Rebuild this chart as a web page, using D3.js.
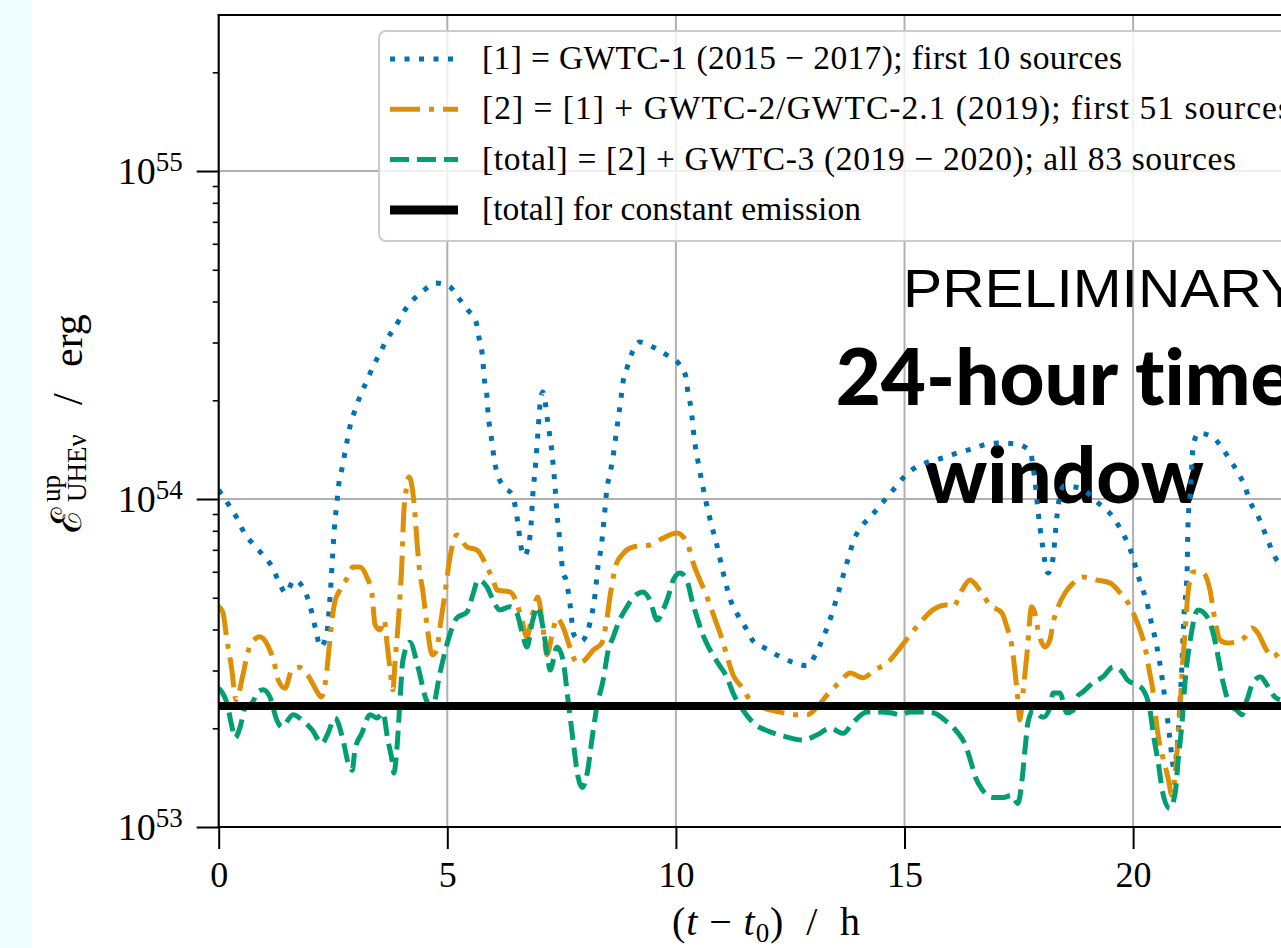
<!DOCTYPE html>
<html lang="en">

<head>
  <meta charset="UTF-8" />
  <title>UHE neutrino energy upper limits</title>
  <script src="https://d3js.org/d3.v7.min.js"></script>
  <style>
    * {
      margin: 0;
      padding: 0;
      box-sizing: border-box;
    }

    body {
      background: #fff;
      width: 1281px;
      height: 948px;
      overflow: hidden;
    }

    svg {
      display: block;
    }

    .serif {
      font-family: 'Liberation Serif', 'DejaVu Serif', serif;
    }
  </style>
</head>

<body>
  <script>
    // time (h) and upper-limit energy in units of 1e53 erg
    const gwtc1 = [[0.00, 10.65], [0.22, 9.59], [0.40, 8.75], [0.55, 7.93], [0.75, 7.29], [0.97, 6.75], [1.17, 6.20], [1.30, 5.66], [1.47, 5.17], [1.65, 5.66], [1.84, 5.39], [1.98, 4.82], [2.13, 3.96], [2.22, 3.54], [2.36, 3.85], [2.40, 4.34], [2.43, 4.92], [2.46, 5.66], [2.49, 6.66], [2.53, 8.16], [2.58, 9.59], [2.63, 11.19], [2.70, 12.43], [2.76, 13.81], [2.89, 17.05], [3.00, 18.94], [3.11, 20.90], [3.24, 22.89], [3.37, 25.26], [3.53, 27.87], [3.68, 30.74], [3.86, 33.44], [4.03, 36.91], [4.23, 40.15], [4.47, 43.07], [4.75, 45.55], [5.04, 44.6], [5.23, 41.29], [5.45, 37.69], [5.63, 34.64], [5.69, 31.19], [5.76, 27.87], [5.79, 25.08], [5.82, 22.58], [5.87, 20.32], [5.89, 18.29], [5.93, 16.46], [5.98, 14.82], [6.02, 13.34], [6.09, 12.0], [6.22, 10.96], [6.42, 10.29], [6.50, 9.26], [6.55, 8.33], [6.59, 7.50], [6.68, 6.70], [6.79, 7.39], [6.83, 8.27], [6.87, 10.29], [6.93, 12.69], [6.98, 15.78], [7.03, 19.48], [7.09, 21.2], [7.20, 17.05], [7.29, 13.81], [7.35, 11.19], [7.40, 9.0], [7.47, 7.29], [7.53, 5.95], [7.60, 5.66], [7.68, 4.82], [7.77, 3.85], [7.93, 3.69], [8.12, 4.19], [8.23, 5.10], [8.30, 6.29], [8.36, 7.04], [8.43, 8.69], [8.49, 10.73], [8.56, 12.0], [8.62, 13.34], [8.71, 16.46], [8.80, 20.32], [8.84, 22.58], [8.93, 25.08], [9.04, 27.87], [9.21, 30.1], [9.50, 29.07], [9.80, 27.48], [10.07, 25.8], [10.22, 23.55], [10.26, 21.2], [10.33, 18.94], [10.40, 15.35], [10.51, 12.43], [10.64, 10.07], [10.79, 8.21], [10.88, 7.39], [11.03, 5.99], [11.21, 4.85], [11.34, 4.46], [11.53, 4.04], [11.69, 3.69], [11.95, 3.51], [12.25, 3.32], [12.56, 3.18], [12.87, 3.10], [13.06, 3.37], [13.20, 3.72], [13.33, 4.13], [13.53, 5.06], [13.72, 6.25], [13.92, 7.66], [14.09, 8.33], [14.31, 9.0], [14.53, 9.79], [14.75, 10.65], [14.97, 11.59], [15.19, 12.34], [15.52, 12.97], [15.84, 13.34], [16.15, 13.81], [16.48, 14.21], [16.81, 14.71], [17.13, 14.82], [17.44, 14.71], [17.74, 14.01], [17.85, 11.43], [17.92, 9.19], [18.01, 7.34], [18.14, 5.95], [18.25, 6.61], [18.31, 8.21], [18.38, 9.93], [18.49, 10.96], [18.84, 10.80], [19.21, 9.79], [19.56, 8.81], [19.76, 7.93], [19.89, 7.29], [20.00, 6.61], [20.09, 5.95], [20.19, 5.39], [20.30, 4.85], [20.37, 4.37], [20.52, 3.54], [20.63, 2.87], [20.72, 2.32], [20.80, 1.88], [20.89, 1.52], [20.98, 1.88], [21.02, 2.32], [21.07, 3.18], [21.11, 4.37], [21.18, 5.99], [21.20, 8.33], [21.25, 10.43], [21.31, 14.30], [21.42, 15.89], [21.73, 15.45], [21.95, 14.30], [22.12, 13.15], [22.30, 12.0], [22.45, 10.88], [22.56, 9.79], [22.71, 9.0], [22.84, 8.16], [22.97, 7.34], [23.10, 6.66], [23.24, 6.29]];

    const gwtc2 = [[0.00, 4.70], [0.09, 4.52], [0.18, 3.72], [0.28, 3.07], [0.38, 2.44], [0.53, 2.91], [0.64, 3.42], [0.75, 3.69], [0.90, 3.80], [1.08, 3.56], [1.21, 3.18], [1.30, 2.81], [1.45, 2.65], [1.60, 3.01], [1.76, 3.07], [1.93, 2.93], [2.13, 2.62], [2.24, 2.49], [2.35, 2.87], [2.41, 3.46], [2.48, 4.28], [2.54, 4.85], [2.65, 5.28], [2.81, 5.74], [2.94, 6.20], [3.09, 6.20], [3.24, 5.78], [3.35, 5.17], [3.42, 4.13], [3.53, 3.99], [3.62, 4.28], [3.68, 3.64], [3.75, 3.01], [3.81, 2.62], [3.86, 3.23], [3.92, 4.07], [3.97, 5.17], [4.01, 6.52], [4.04, 8.63], [4.11, 10.88], [4.16, 11.67], [4.24, 10.65], [4.29, 9.07], [4.34, 7.34], [4.38, 6.29], [4.47, 5.17], [4.56, 4.07], [4.67, 3.35], [4.77, 3.46], [4.84, 4.07], [4.95, 5.17], [5.06, 6.66], [5.21, 7.77], [5.43, 7.14], [5.65, 6.99], [5.87, 6.20], [6.00, 5.66], [6.09, 5.28], [6.37, 5.21], [6.52, 4.82], [6.63, 4.28], [6.74, 3.80], [6.85, 4.37], [6.98, 5.03], [7.09, 4.07], [7.18, 3.35], [7.29, 3.85], [7.40, 4.34], [7.53, 4.07], [7.68, 3.54], [7.84, 3.16], [8.01, 3.23], [8.19, 3.46], [8.38, 3.64], [8.47, 4.13], [8.58, 5.28], [8.69, 6.29], [8.82, 6.75], [9.06, 7.14], [9.43, 7.24], [9.72, 7.60], [10.02, 7.88], [10.24, 7.39], [10.37, 6.43], [10.46, 5.95], [10.68, 5.03], [10.86, 4.28], [11.03, 3.66], [11.14, 3.23], [11.25, 2.91], [11.44, 2.67], [11.62, 2.44], [11.91, 2.31], [12.28, 2.24], [12.56, 2.20], [12.87, 2.20], [13.09, 2.32], [13.31, 2.53], [13.59, 2.77], [13.81, 2.95], [14.09, 2.85], [14.35, 3.01], [14.64, 3.18], [14.90, 3.51], [15.12, 3.85], [15.34, 4.19], [15.62, 4.59], [15.93, 4.75], [16.06, 4.69], [16.26, 5.28], [16.43, 5.66], [16.67, 5.21], [16.87, 4.75], [17.13, 4.49], [17.24, 4.07], [17.35, 3.54], [17.42, 2.95], [17.48, 2.44], [17.52, 2.12], [17.59, 2.56], [17.68, 3.39], [17.78, 4.69], [17.85, 4.49], [17.92, 3.99], [18.07, 3.54], [18.18, 3.72], [18.25, 4.19], [18.36, 4.69], [18.51, 5.17], [18.69, 5.54], [18.90, 5.78], [19.21, 5.66], [19.50, 5.54], [19.72, 5.17], [19.89, 4.82], [20.04, 4.37], [20.15, 3.99], [20.26, 3.54], [20.35, 3.01], [20.43, 2.62], [20.48, 2.27], [20.54, 1.93], [20.65, 1.63], [20.76, 1.42], [20.85, 1.25], [20.92, 1.46], [20.98, 1.84], [21.03, 2.32], [21.07, 2.95], [21.14, 3.99], [21.20, 5.17], [21.31, 5.99], [21.53, 5.95], [21.68, 5.28], [21.79, 4.28], [21.90, 3.72], [22.05, 3.64], [22.27, 3.67], [22.45, 3.80], [22.60, 4.04], [22.73, 3.90], [22.88, 3.54], [23.04, 3.30], [23.21, 3.42]];

    const gwtcTotal = [[0.00, 2.65], [0.07, 2.58], [0.18, 2.39], [0.29, 2.02], [0.36, 1.87], [0.47, 2.02], [0.58, 2.32], [0.73, 2.39], [0.86, 2.58], [0.97, 2.62], [1.12, 2.49], [1.27, 2.12], [1.38, 2.02], [1.63, 2.20], [1.82, 2.12], [2.04, 1.98], [2.26, 1.80], [2.39, 1.93], [2.54, 2.15], [2.72, 1.84], [2.83, 1.57], [2.92, 1.49], [2.98, 1.72], [3.13, 1.93], [3.31, 2.20], [3.46, 2.15], [3.59, 2.23], [3.70, 1.84], [3.79, 1.60], [3.83, 1.46], [3.90, 1.75], [3.97, 2.49], [4.03, 3.23], [4.18, 3.66], [4.36, 3.07], [4.54, 2.44], [4.67, 2.31], [4.84, 2.95], [5.00, 3.64], [5.21, 4.34], [5.43, 4.52], [5.57, 5.17], [5.67, 5.66], [5.87, 5.39], [6.00, 4.92], [6.15, 4.59], [6.37, 4.69], [6.52, 4.49], [6.66, 3.80], [6.74, 3.54], [6.87, 4.28], [6.98, 4.69], [7.07, 4.22], [7.18, 3.39], [7.25, 3.01], [7.40, 3.54], [7.53, 3.23], [7.64, 2.44], [7.75, 1.84], [7.86, 1.42], [7.95, 1.32], [8.06, 1.46], [8.17, 1.88], [8.27, 2.32], [8.41, 2.81], [8.52, 3.46], [8.63, 3.80], [8.74, 4.19], [8.93, 4.69], [9.06, 4.99], [9.28, 5.21], [9.43, 4.92], [9.59, 4.28], [9.72, 4.59], [9.83, 5.03], [9.94, 5.66], [10.09, 5.95], [10.24, 5.66], [10.35, 4.92], [10.46, 4.37], [10.59, 3.85], [10.75, 3.46], [10.92, 3.16], [11.12, 2.85], [11.25, 2.56], [11.47, 2.27], [11.69, 2.08], [12.06, 1.95], [12.43, 1.88], [12.78, 1.84], [13.09, 1.91], [13.37, 2.00], [13.66, 1.93], [13.87, 2.08], [14.18, 2.24], [14.47, 2.24], [14.69, 2.23], [14.90, 2.20], [15.12, 2.24], [15.41, 2.24], [15.62, 2.23], [15.93, 2.09], [16.15, 1.95], [16.33, 1.78], [16.44, 1.60], [16.55, 1.42], [16.70, 1.30], [16.92, 1.23], [17.16, 1.23], [17.35, 1.25], [17.48, 1.18], [17.57, 1.39], [17.64, 1.75], [17.70, 2.08], [17.81, 2.27], [18.03, 2.16], [18.18, 2.31], [18.25, 2.56], [18.40, 2.56], [18.55, 2.23], [18.69, 2.27], [18.77, 2.49], [18.90, 2.58], [19.12, 2.75], [19.34, 2.87], [19.56, 3.07], [19.76, 2.97], [19.87, 2.81], [20.09, 2.71], [20.22, 2.62], [20.37, 2.27], [20.44, 1.93], [20.55, 1.57], [20.65, 1.27], [20.80, 1.14], [20.92, 1.27], [20.98, 1.57], [21.07, 2.08], [21.14, 2.81], [21.25, 3.72], [21.42, 4.59], [21.62, 4.37], [21.75, 3.90], [21.86, 3.30], [21.97, 2.75], [22.12, 2.36], [22.27, 2.27], [22.38, 2.20], [22.49, 2.44], [22.62, 2.75], [22.78, 2.87], [22.93, 2.71], [23.10, 2.49], [23.21, 2.44]];

    const constantTotal = 2.34; // 1e53 erg, constant-emission limit
    const xTicks = [0, 5, 10, 15, 20];
    const yMajor = [1, 10, 100];
    const yExponents = ['53', '54', '55'];
    const yMinor = [2, 3, 4, 5, 6, 7, 8, 9, 20, 30, 40, 50, 60, 70, 80, 90, 200];
    const legendLabels = [
      '[1] = GWTC-1 (2015 \u2212 2017); first 10 sources',
      '[2] = [1] + GWTC-2/GWTC-2.1 (2019); first 51 sources',
      '[total] = [2] + GWTC-3 (2019 \u2212 2020); all 83 sources',
      '[total] for constant emission'
    ];
    const legendWidths = [640, 809, 754, 379];

    //constants
    const [w, h] = [1281, 948];
    const [x0, x1, yTop, yBot] = [218.7, 1316, 15, 827];
    const styles = [
      { color: '#0173b2', dash: '5 9.5', width: 5 },
      { color: '#de8f05', dash: '30 9 5 9', width: 5 },
      { color: '#029e73', dash: '19 8', width: 5 },
      { color: '#000000', dash: null, width: 8 }
    ];

    const svg = d3.select('body').append('svg')
      .attr('width', w)
      .attr('height', h);

    // light strip on the left edge
    svg.append('rect')
      .attr('x', 0).attr('y', 0)
      .attr('width', 32).attr('height', h)
      .attr('fill', '#effefe');

    //scales
    const xScale = d3.scaleLinear().domain([0, 24]).range([x0, x1]);
    const yScale = d3.scaleLog().domain([1, 299]).range([yBot, yTop]);

    //grid
    const grid = svg.append('g').attr('stroke', '#b0b0b0').attr('stroke-width', 2);
    grid.selectAll('.gx').data(xTicks).join('line')
      .attr('x1', d => xScale(d)).attr('x2', d => xScale(d))
      .attr('y1', yTop).attr('y2', yBot);
    grid.selectAll('.gy').data(yMajor).join('line')
      .attr('x1', x0).attr('x2', x1)
      .attr('y1', d => yScale(d)).attr('y2', d => yScale(d));

    //annotation texts
    svg.append('text')
      .attr('x', 903).attr('y', 307)
      .attr('font-family', "'Liberation Sans', Arial, sans-serif")
      .attr('font-size', 54)
      .attr('textLength', 397)
      .attr('lengthAdjust', 'spacingAndGlyphs')
      .text('PRELIMINARY');

    const big = svg.append('text')
      .attr('text-anchor', 'middle')
      .attr('font-family', 'Lato, sans-serif')
      .attr('font-weight', 900)
      .attr('font-size', 78)
      .style('font-variant-ligatures', 'none');
    big.append('tspan').attr('x', 1064).attr('y', 405).text('24-hour time');
    big.append('tspan').attr('x', 1064).attr('y', 503).text('window');

    //curves
    svg.append('clipPath').attr('id', 'plotclip')
      .append('rect').attr('x', x0).attr('y', yTop)
      .attr('width', x1 - x0).attr('height', yBot - yTop);

    const line = d3.line()
      .x(d => xScale(d[0]))
      .y(d => yScale(d[1]))
      .curve(d3.curveMonotoneX);

    const curves = svg.append('g').attr('clip-path', 'url(#plotclip)');
    [gwtc1, gwtc2, gwtcTotal].forEach((series, i) => {
      curves.append('path')
        .datum(series)
        .attr('d', line)
        .attr('fill', 'none')
        .attr('stroke', styles[i].color)
        .attr('stroke-width', styles[i].width)
        .attr('stroke-dasharray', styles[i].dash);
    });
    curves.append('line')
      .attr('x1', x0).attr('x2', x1)
      .attr('y1', yScale(constantTotal)).attr('y2', yScale(constantTotal))
      .attr('stroke', '#000').attr('stroke-width', 8);

    //axes
    const xAxis = d3.axisBottom(xScale)
      .tickValues(xTicks)
      .tickSize(22)
      .tickSizeOuter(0)
      .tickPadding(12);
    const xg = svg.append('g')
      .attr('transform', `translate(0, ${yBot})`)
      .call(xAxis);
    xg.select('.domain').remove();
    xg.selectAll('line').attr('stroke-width', 2);
    xg.selectAll('text')
      .attr('class', 'serif')
      .attr('font-size', 36)
      .attr('fill', '#000');

    const yAxis = d3.axisLeft(yScale)
      .tickValues(yMajor)
      .tickSize(22)
      .tickSizeOuter(0)
      .tickPadding(14)
      .tickFormat('');
    const yg = svg.append('g')
      .attr('transform', `translate(${x0}, 0)`)
      .call(yAxis);
    yg.select('.domain').remove();
    yg.selectAll('line').attr('stroke-width', 2);
    yg.selectAll('.tick text').each(function (d, i) {
      const t = d3.select(this)
        .attr('class', 'serif')
        .attr('font-size', 38)
        .attr('fill', '#000');
      t.append('tspan').text('10');
      t.append('tspan').attr('dy', -13).attr('font-size', 27).text(yExponents[i]);
    });

    const ymin = svg.append('g').attr('transform', `translate(${x0}, 0)`)
      .call(d3.axisLeft(yScale).tickValues(yMinor).tickSize(6).tickFormat(''));
    ymin.select('.domain').remove();
    ymin.selectAll('line').attr('stroke-width', 1.6);

    //spines
    const spines = svg.append('g').attr('stroke', '#000').attr('stroke-width', 2);
    spines.append('line').attr('x1', x0).attr('x2', x0).attr('y1', yTop - 1).attr('y2', yBot + 1);
    spines.append('line').attr('x1', x0 - 1).attr('x2', x1).attr('y1', yTop).attr('y2', yTop);
    spines.append('line').attr('x1', x0 - 1).attr('x2', x1).attr('y1', yBot).attr('y2', yBot);

    //axis labels
    const xl = svg.append('text')
      .attr('class', 'serif')
      .attr('x', 766).attr('y', 935)
      .attr('text-anchor', 'middle')
      .attr('font-size', 40)
      .attr('textLength', 188)
      .style('white-space', 'pre');
    xl.append('tspan').text('(');
    xl.append('tspan').attr('font-style', 'italic').text('t');
    xl.append('tspan').text(' \u2212 ');
    xl.append('tspan').attr('font-style', 'italic').text('t');
    xl.append('tspan').attr('font-size', 27).attr('dy', 7).text('0');
    xl.append('tspan').attr('dy', -7).text(')  /  h');

    // y label drawn in a rotated frame: x runs upward from the bottom of the label
    const yl = svg.append('g')
      .attr('class', 'serif')
      .attr('transform', 'translate(82, 533) rotate(-90)');
    const calE = yl.append('text').attr('x', 0).attr('y', -1).attr('font-size', 42)
      .attr('font-family', "'DejaVu Serif', serif").text('\u2130');
    const scriptX = Math.max(31, calE.node().getComputedTextLength() + 1);
    yl.append('text').attr('x', scriptX).attr('y', -22).attr('font-size', 27).text('up');
    yl.append('text').attr('x', scriptX).attr('y', 4).attr('font-size', 27).text('UHE\u03bd');
    yl.append('text').attr('x', 128).attr('y', 0).attr('font-size', 42).text('/');
    yl.append('text').attr('x', 166).attr('y', 0).attr('font-size', 42).text('erg');

    //legend
    const legend = svg.append('g');
    legend.append('rect')
      .attr('x', 379).attr('y', 31)
      .attr('width', 930).attr('height', 210)
      .attr('rx', 7)
      .attr('fill', '#fff').attr('fill-opacity', 0.8)
      .attr('stroke', '#cccccc').attr('stroke-width', 2);

    const rows = legend.selectAll('.row')
      .data(legendLabels)
      .join('g')
      .attr('transform', (d, i) => `translate(0, ${59 + i * 50.3})`);
    rows.append('line')
      .attr('x1', 390).attr('x2', 458)
      .attr('stroke', (d, i) => styles[i].color)
      .attr('stroke-width', (d, i) => styles[i].width + (i === 3 ? 1 : 0))
      .attr('stroke-dasharray', (d, i) => styles[i].dash);
    rows.append('text')
      .attr('class', 'serif')
      .attr('x', 482).attr('y', 10)
      .attr('font-size', 33.5)
      .attr('textLength', (d, i) => legendWidths[i])
      .style('white-space', 'pre')
      .text(d => d);
  </script>
</body>

</html>
